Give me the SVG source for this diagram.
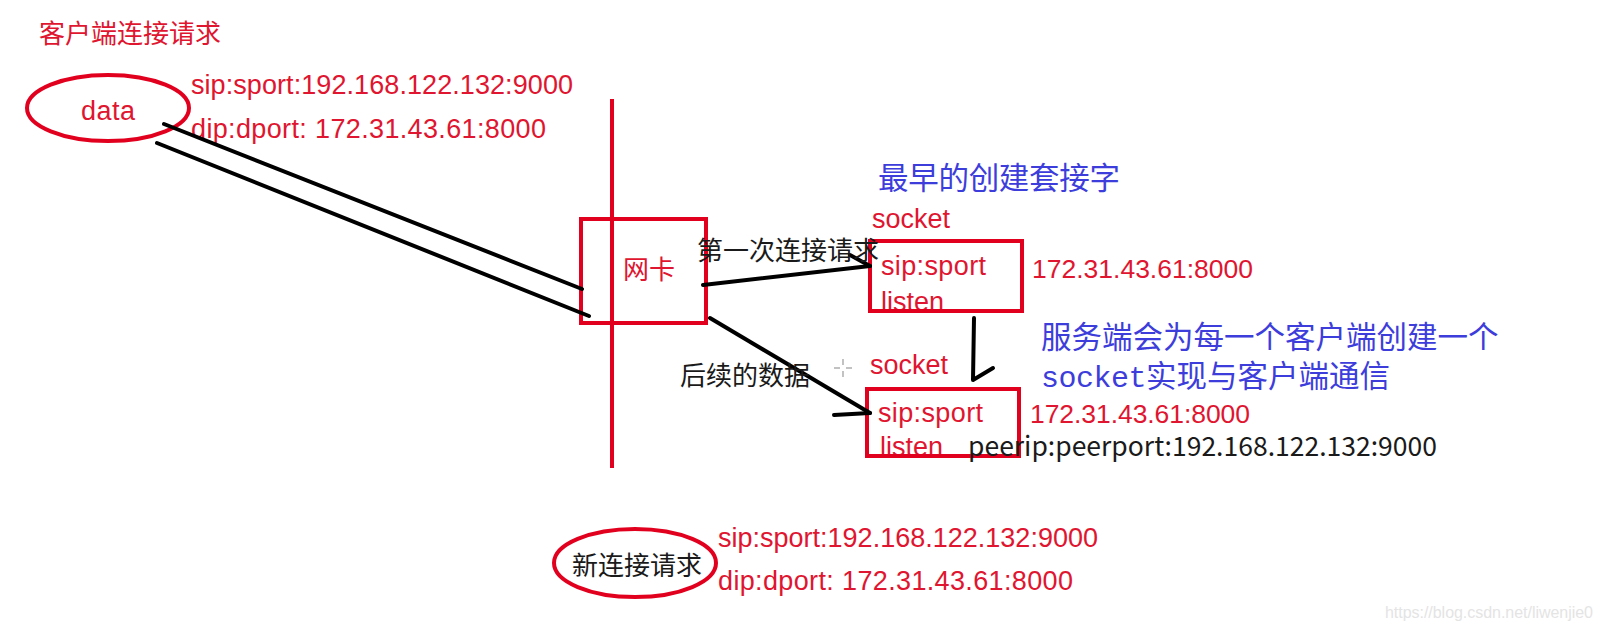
<svg xmlns="http://www.w3.org/2000/svg" width="1602" height="633" viewBox="0 0 1602 633">
<style>
.red{fill:#e01530;font-family:"Liberation Sans","Noto Sans CJK SC",sans-serif}
.cjk{font-family:"Noto Sans CJK SC","Liberation Sans",sans-serif}
.blk{fill:#1a1a1a;font-family:"Noto Sans CJK SC","Liberation Sans",sans-serif}
.blue{fill:#3d3ddb;font-family:"Noto Sans CJK SC",sans-serif;font-size:30.5px}
.box{fill:none;stroke:#e2001f;stroke-width:4}
.ell{fill:none;stroke:#e2001f;stroke-width:4}
.ln{fill:none;stroke:#000;stroke-width:4;stroke-linecap:round;stroke-linejoin:round}
</style>
<rect width="1602" height="633" fill="#fff"/>

<text class="red cjk" x="39" y="43" font-size="26">客户端连接请求</text>

<g id="node-client">
<ellipse class="ell" cx="108" cy="108" rx="81" ry="33"/>
<text class="red" x="81" y="120" font-size="27" textLength="54">data</text>
<text class="red" x="191" y="94" font-size="27" textLength="382">sip:sport:192.168.122.132:9000</text>
<text class="red" x="191" y="138" font-size="27" textLength="355">dip:dport: 172.31.43.61:8000</text>
</g>

<g id="node-nic">
<line x1="612" y1="99" x2="612" y2="468" stroke="#e2001f" stroke-width="4"/>
<rect class="box" x="581" y="219" width="125" height="104"/>
<text class="red cjk" x="623" y="279" font-size="26">网卡</text>
</g>

<g id="node-socket1">
<text class="blue" x="878" y="189" textLength="242" lengthAdjust="spacing">最早的创建套接字</text>
<text class="red" x="872" y="228" font-size="27" textLength="78">socket</text>
<text class="red" x="881" y="275" font-size="27" textLength="105">sip:sport</text>
<text class="red" x="881" y="311" font-size="27" textLength="63">listen</text>
<rect class="box" x="870" y="241" width="152" height="70"/>
<text class="red" x="1032" y="278" font-size="26.5" textLength="221">172.31.43.61:8000</text>
</g>

<g id="node-socket2">
<text class="blue" x="1041" y="348">服务端会为每一个客户端创建一个</text>
<text class="blue" x="1041" y="387"><tspan style="font-family:'Liberation Mono',monospace;font-size:30px;letter-spacing:-0.5px">socket</tspan>实现与客户端通信</text>
<text class="red" x="870" y="374" font-size="27" textLength="78">socket</text>
<text class="red" x="878" y="422" font-size="27" textLength="105">sip:sport</text>
<text class="red" x="880" y="456" font-size="27" textLength="63">listen</text>
<rect class="box" x="867" y="389" width="152" height="67"/>
<text class="red" x="1030" y="423" font-size="26.5" textLength="220">172.31.43.61:8000</text>
<text class="blk" x="968" y="456" font-size="26.5" textLength="469">peerip:peerport:192.168.122.132:9000</text>
</g>

<g id="node-newconn">
<ellipse class="ell" cx="635" cy="563" rx="81" ry="34"/>
<text class="blk" x="572" y="575" font-size="26">新连接请求</text>
<text class="red" x="718" y="547" font-size="27" textLength="380">sip:sport:192.168.122.132:9000</text>
<text class="red" x="718" y="590" font-size="27" textLength="355">dip:dport: 172.31.43.61:8000</text>
</g>

<g id="connectors">
<line class="ln" x1="164" y1="124" x2="582" y2="289"/>
<line class="ln" x1="157" y1="143" x2="589" y2="316"/>
<polyline class="ln" points="703,285 870,266"/>
<polyline class="ln" points="850,255 870,266"/>
<polyline class="ln" points="710,318 870,413"/>
<polyline class="ln" points="834,415 870,413"/>
<polyline class="ln" points="974,318 973,380 993,368"/>
</g>

<text class="blk" x="697" y="260" font-size="26">第一次连接请求</text>
<text class="blk" x="680" y="385" font-size="26">后续的数据</text>

<g stroke="#9a9a9a" stroke-width="1.2">
<line x1="834" y1="368" x2="840" y2="368"/>
<line x1="846" y1="368" x2="852" y2="368"/>
<line x1="843" y1="359" x2="843" y2="365"/>
<line x1="843" y1="371" x2="843" y2="377"/>
</g>

<text x="1385" y="618" font-family="Liberation Sans, sans-serif" font-size="16" fill="#e4e4e4" textLength="208">https://blog.csdn.net/liwenjie0</text>
</svg>
